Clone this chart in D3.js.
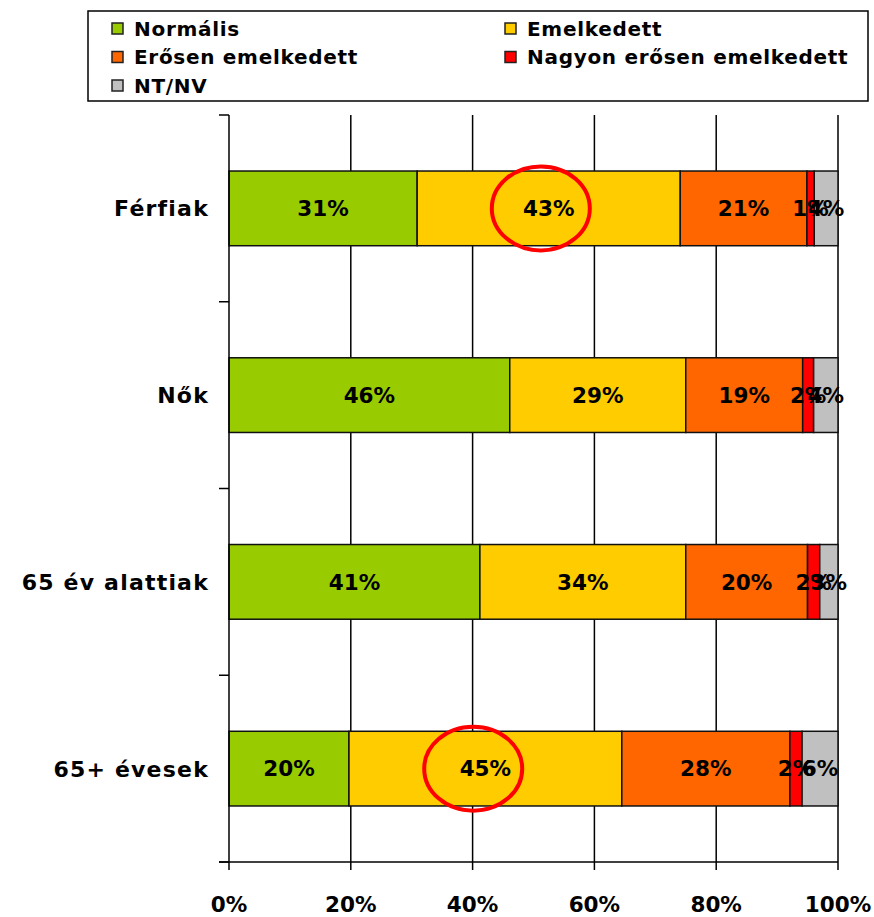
<!DOCTYPE html>
<html>
<head>
<meta charset="utf-8">
<script src="https://cdn.jsdelivr.net/npm/d3@7"></script>
<style>
  body { margin: 0; background: #fff; }
  text { font-family: "DejaVu Sans", Verdana, sans-serif; font-weight: bold; fill: #000; }
</style>
</head>
<body>
<div id="graph"></div>
<script>
var categories = ['Férfiak', 'Nők', '65 év alattiak', '65+ évesek']
var seriesNames = ['Normális', 'Emelkedett', 'Erősen emelkedett', 'Nagyon erősen emelkedett', 'NT/NV']
var seriesColors = ['#99cc00', '#ffcc00', '#ff6600', '#ff0000', '#c0c0c0']

// percent shares per category, in series order
var normalis   = [30.9, 46.1, 41.2, 19.7]
var emelkedett = [43.2, 28.9, 33.8, 44.8]
var erosen     = [20.8, 19.2, 20.0, 27.6]
var nagyon     = [1.2, 1.8, 2.0, 2.0]
var ntnv       = [3.9, 4.0, 3.0, 5.9]
var xTicks = [0, 20, 40, 60, 80, 100]
// hand-drawn highlight circles: category and x position (percent)
var circleCats = ['Férfiak', '65+ évesek']
var circleX = [51.2, 40.1]

var seriesValues = [normalis, emelkedett, erosen, nagyon, ntnv]

var width = 874, height = 917
var margin = {left: 229, right: 36, top: 115, bottom: 55}
var w = width - margin.left - margin.right
var h = height - margin.top - margin.bottom

var svg = d3.select('#graph').append('svg')
  .attr('width', width).attr('height', height)

var g = svg.append('g').attr('transform', 'translate(' + margin.left + ',' + margin.top + ')')

var x = d3.scaleLinear().domain([0, 100]).range([0, w])
var y = d3.scaleBand().domain(categories).range([0, h]).paddingInner(0.6).paddingOuter(0.3)
var band = d3.scaleBand().domain(categories).range([0, h])

// gridlines
g.selectAll('line.grid').data(xTicks.slice(1)).enter().append('line')
  .attr('x1', d => x(d)).attr('x2', d => x(d))
  .attr('y1', 0).attr('y2', h)
  .attr('stroke', '#000').attr('stroke-width', 1.5)

// stacked data
var segs = []
categories.forEach(function(c, i){
  var acc = 0
  seriesValues.forEach(function(s, j){
    segs.push({cat: c, si: j, v: s[i], x0: acc, x1: acc + s[i]})
    acc += s[i]
  })
})

g.selectAll('rect.seg').data(segs).enter().append('rect')
  .attr('x', d => x(d.x0))
  .attr('width', d => x(d.x1) - x(d.x0))
  .attr('y', d => y(d.cat))
  .attr('height', y.bandwidth())
  .attr('fill', d => seriesColors[d.si])
  .attr('stroke', '#111').attr('stroke-width', 1.5)

g.selectAll('text.lbl').data(segs).enter().append('text')
  .attr('x', d => x((d.x0 + d.x1) / 2))
  .attr('y', d => y(d.cat) + y.bandwidth() / 2)
  .attr('dy', '0.36em')
  .attr('text-anchor', 'middle')
  .style('font-size', '21.5px')
  .text(d => Math.round(d.v) + '%')

// highlight circles
g.selectAll('ellipse').data(circleCats).enter().append('ellipse')
  .attr('cx', (d, i) => x(circleX[i]))
  .attr('cy', d => y(d) + y.bandwidth() / 2)
  .attr('rx', 49).attr('ry', 42)
  .attr('fill', 'none').attr('stroke', '#ff0000').attr('stroke-width', 4)

// left axis
g.append('line').attr('x1', 0).attr('x2', 0).attr('y1', 0).attr('y2', h)
  .attr('stroke', '#000').attr('stroke-width', 1.5)
var bounds = categories.map(c => band(c)).concat([h])
g.selectAll('line.ytick').data(bounds).enter().append('line')
  .attr('x1', -10).attr('x2', 0).attr('y1', d => d).attr('y2', d => d)
  .attr('stroke', '#000').attr('stroke-width', 1.5)
g.selectAll('text.cat').data(categories).enter().append('text')
  .attr('x', -20)
  .attr('y', d => y(d) + y.bandwidth() / 2)
  .attr('dy', '0.36em')
  .attr('text-anchor', 'end')
  .style('font-size', '22px').style('letter-spacing', '1.2px')
  .text(d => d)

// bottom axis
g.append('line').attr('x1', -10).attr('x2', w).attr('y1', h).attr('y2', h)
  .attr('stroke', '#000').attr('stroke-width', 1.5)
g.selectAll('line.xtick').data(xTicks).enter().append('line')
  .attr('x1', d => x(d)).attr('x2', d => x(d)).attr('y1', h).attr('y2', h + 8)
  .attr('stroke', '#000').attr('stroke-width', 1.5)
g.selectAll('text.xt').data(xTicks).enter().append('text')
  .attr('x', d => x(d)).attr('y', h + 50)
  .attr('text-anchor', 'middle')
  .style('font-size', '21.5px')
  .text(d => d + '%')

// legend
var leg = svg.append('g').attr('transform', 'translate(88,11)')
leg.append('rect').attr('width', 780).attr('height', 90)
  .attr('fill', '#fff').attr('stroke', '#000').attr('stroke-width', 1.5)
var item = leg.selectAll('g.item').data(seriesNames).enter().append('g')
  .attr('transform', (d, i) => 'translate(' + (i % 2 ? 417 : 24) + ',' + (17.5 + Math.floor(i / 2) * 28.5) + ')')
item.append('rect').attr('width', 11).attr('height', 11).attr('y', -5.5)
  .attr('fill', (d, i) => seriesColors[i]).attr('stroke', '#222').attr('stroke-width', 1.5)
item.append('text').attr('x', 22).attr('dy', '0.36em')
  .style('font-size', '20px').style('letter-spacing', '0.7px')
  .text(d => d)
</script>
</body>
</html>
